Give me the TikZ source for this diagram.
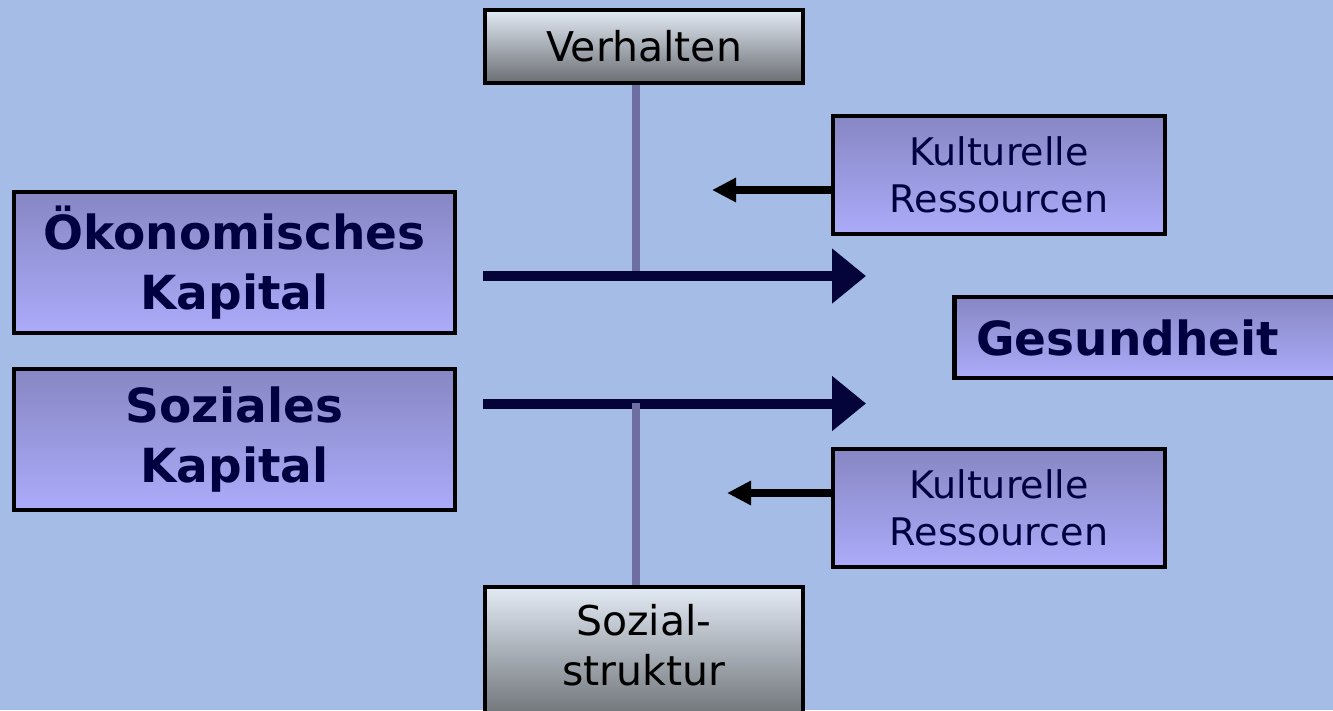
\documentclass[tikz,border=0pt]{standalone}
\usepackage{fontspec}
\setmainfont{DejaVu Sans}
\usetikzlibrary{arrows.meta}

\definecolor{bg}{RGB}{164,188,230}
\definecolor{navy}{RGB}{4,4,58}
\definecolor{stem}{RGB}{110,110,162}
\definecolor{lilatop}{RGB}{135,135,196}
\definecolor{lilabot}{RGB}{171,171,250}
\definecolor{greytop}{RGB}{226,234,244}
\definecolor{greymid}{RGB}{192,199,207}
\definecolor{greybot}{RGB}{106,110,115}
\definecolor{lilatext}{RGB}{0,0,64}

\tikzset{
  lilabox/.style={draw=black,line width=4.5pt,top color=lilatop,bottom color=lilabot,
    text=lilatext,align=center,inner sep=0pt},
  greybox/.style={draw=black,line width=4.5pt,top color=greytop,middle color=greymid,
    bottom color=greybot,text=black,align=center,inner sep=0pt},
  bigtext/.style={font=\fontsize{47}{60}\selectfont\bfseries},
  midtext/.style={font=\fontsize{41}{50}\selectfont},
  smalltext/.style={font=\fontsize{38}{47}\selectfont},
  flow/.style={navy,line width=10pt,-{Triangle[length=34pt,width=53pt]}},
  push/.style={black,line width=8pt,-{Triangle[length=24pt,width=23pt]}},
  stemline/.style={stem,line width=8pt}
}

\begin{document}
\begin{tikzpicture}[x=1pt,y=-1pt]

\fill[bg] (0,0) rectangle (1333,710);
\useasboundingbox (0,0) rectangle (1333,710);

\node[greybox,midtext,minimum width=318pt,minimum height=73pt] (verhalten) at (644,46.5) {Verhalten};
\node[greybox,midtext,minimum width=318pt,minimum height=136pt,text depth=20pt] (struktur) at (644,655) {Sozial-\\struktur};

\node[lilabox,bigtext,minimum width=441pt,minimum height=141pt] (oekon) at (234.5,262.5) {Ökonomisches\\Kapital};
\node[lilabox,bigtext,minimum width=441pt,minimum height=141pt] (sozial) at (234.5,439.5) {Soziales\\Kapital};

\node[lilabox,smalltext,minimum width=332pt,minimum height=118pt] (kultur1) at (999,175) {Kulturelle\\Ressourcen};
\node[lilabox,smalltext,minimum width=332pt,minimum height=118pt] (kultur2) at (999,508) {Kulturelle\\Ressourcen};

\node[lilabox,bigtext,anchor=west,align=left,text width=350pt,inner xsep=22pt,minimum height=81pt] (gesund) at (952,337.5) {Gesundheit};

\coordinate (oben) at (636,271);
\coordinate (unten) at (636,403);
\coordinate (fluss1a) at (483,276);
\coordinate (fluss1b) at (866,276);
\coordinate (fluss2a) at (483,403.5);
\coordinate (fluss2b) at (866,403.5);
\coordinate (spitze1) at (712,190);
\coordinate (spitze2) at (727,493);

\draw[stemline] (verhalten.south -| oben) -- (oben);

\draw[flow] (fluss1a) -- (fluss1b);
\draw[flow] (fluss2a) -- (fluss2b);

\draw[stemline] (unten) -- (struktur.north -| unten);

\draw[push] ([yshift=-15pt]kultur1.west) -- (spitze1);
\draw[push] ([yshift=15pt]kultur2.west) -- (spitze2);

\end{tikzpicture}
\end{document}
